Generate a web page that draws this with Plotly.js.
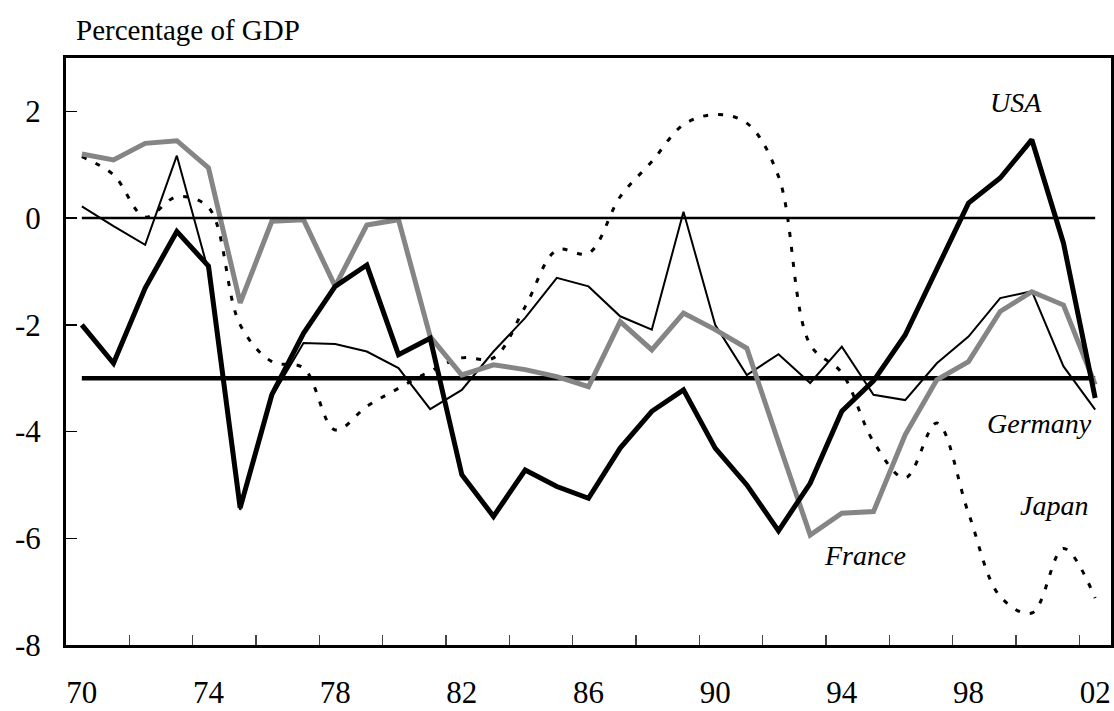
<!DOCTYPE html>
<html>
<head>
<meta charset="utf-8">
<script src="https://cdn.plot.ly/plotly-3.0.1.min.js"></script>
<style>
  html, body { margin: 0; padding: 0; background: #ffffff; }
  #chart { width: 1114px; height: 711px; }
</style>
</head>
<body>
<div id="chart"></div>
<script>
const years = [1970,1971,1972,1973,1974,1975,1976,1977,1978,1979,
               1980,1981,1982,1983,1984,1985,1986,1987,1988,1989,
               1990,1991,1992,1993,1994,1995,1996,1997,1998,1999,
               2000,2001,2002];

const usa = [-2.0,-2.72,-1.31,-0.25,-0.9,-5.43,-3.31,-2.16,-1.28,-0.88,
             -2.56,-2.25,-4.81,-5.59,-4.72,-5.03,-5.25,-4.31,-3.62,-3.22,
             -4.31,-5.0,-5.86,-4.97,-3.62,-3.05,-2.19,-0.95,0.28,0.75,
             1.47,-0.47,-3.37];

const germany = [0.22,-0.15,-0.5,1.17,-1.0,-5.47,-3.35,-2.34,-2.36,-2.5,
                 -2.81,-3.58,-3.22,-2.5,-1.87,-1.12,-1.28,-1.84,-2.09,0.12,
                 -2.0,-2.94,-2.55,-3.09,-2.41,-3.31,-3.41,-2.72,-2.22,-1.5,
                 -1.37,-2.78,-3.59];

const japan = [1.15,0.81,0.02,0.4,0.2,-2.0,-2.69,-2.81,-3.97,-3.53,
               -3.19,-2.87,-2.62,-2.62,-1.66,-0.6,-0.66,0.4,1.06,1.75,
               1.94,1.78,0.78,-2.37,-2.9,-4.19,-4.87,-3.84,-5.53,-7.09,
               -7.4,-6.19,-7.12];

const france = [1.2,1.09,1.4,1.45,0.94,-1.59,-0.06,-0.03,-1.28,-0.13,
                -0.03,-2.22,-2.94,-2.75,-2.84,-2.97,-3.16,-1.94,-2.47,-1.78,
                -2.09,-2.44,-4.2,-5.94,-5.53,-5.5,-4.06,-3.03,-2.69,-1.75,
                -1.38,-1.63,-3.12];

const refYears = [1970, 2002];
const zeroRef = [0, 0];
const limitRef = [-3, -3];

const labelYears = [1970,1974,1978,1982,1986,1990,1994,1998,2002];
const labelText = ['70','74','78','82','86','90','94','98','02'];
const tickYears = [1971.5,1973.5,1975.5,1977.5,1979.5,1981.5,1983.5,1985.5,1987.5,
                   1989.5,1991.5,1993.5,1995.5,1997.5,1999.5,2001.5];
const yTicks = [-8,-6,-4,-2,0,2];

const seriesNames = ['USA','Germany','Japan','France'];

const SERIF = 'Times New Roman, Liberation Serif, serif';

const traces = [
  {x: refYears, y: zeroRef, xaxis: 'x2', yaxis: 'y', mode: 'lines',
   line: {color: '#000000', width: 2.5}, hoverinfo: 'skip', showlegend: false},
  {x: refYears, y: limitRef, mode: 'lines',
   line: {color: '#000000', width: 4.5}, hoverinfo: 'skip', showlegend: false},
  {x: years, y: japan, name: seriesNames[2], mode: 'lines',
   line: {color: '#000000', width: 3, dash: '5px,10px', shape: 'spline', smoothing: 1}},
  {x: years, y: germany, name: seriesNames[1], mode: 'lines',
   line: {color: '#000000', width: 2}},
  {x: years, y: france, name: seriesNames[3], mode: 'lines',
   line: {color: '#858585', width: 5}},
  {x: years, y: usa, name: seriesNames[0], mode: 'lines',
   line: {color: '#000000', width: 5}}
];

const labelFont = {family: SERIF, size: 28, color: '#000000', style: 'italic'};

const layout = {
  width: 1114,
  height: 711,
  margin: {l: 66, r: 3, t: 58, b: 66, pad: 0},
  paper_bgcolor: '#ffffff',
  plot_bgcolor: '#ffffff',
  showlegend: false,
  font: {family: SERIF, size: 31, color: '#000000'},
  title: {
    text: 'Percentage of GDP',
    font: {family: SERIF, size: 29, color: '#000000'},
    xref: 'container', yref: 'container',
    x: 76 / 1114, xanchor: 'left',
    y: 1 - 30 / 711, yanchor: 'middle'
  },
  xaxis: {
    range: [1969.5, 2002.5],
    tickmode: 'array',
    tickvals: labelYears,
    ticktext: labelText,
    ticks: '',
    showgrid: false,
    zeroline: false,
    showline: true,
    mirror: true,
    linecolor: '#000000',
    linewidth: 3,
    ticklabelstandoff: 18,
    tickfont: {family: SERIF, size: 31, color: '#000000'}
  },
  xaxis2: {
    overlaying: 'x',
    anchor: 'y',
    side: 'bottom',
    range: [1969.5, 2002.5],
    tickmode: 'array',
    tickvals: tickYears,
    ticks: 'inside',
    ticklen: 10,
    tickwidth: 1.5,
    tickcolor: '#444444',
    showticklabels: false,
    showgrid: false,
    zeroline: false,
    showline: false
  },
  yaxis: {
    range: [-8, 3],
    tickmode: 'array',
    tickvals: yTicks,
    ticktext: yTicks.map(String),
    ticks: 'inside',
    ticklen: 11,
    tickwidth: 1.5,
    tickcolor: '#000000',
    showgrid: false,
    zeroline: false,
    showline: true,
    mirror: true,
    linecolor: '#000000',
    linewidth: 3,
    ticklabelstandoff: 16,
    tickfont: {family: SERIF, size: 31, color: '#000000'}
  },
  annotations: [
    {text: seriesNames[0], x: 1999.49, y: 2.16, xref: 'x', yref: 'y', showarrow: false, font: labelFont},
    {text: seriesNames[1], x: 2000.25, y: -3.84, xref: 'x', yref: 'y', showarrow: false, font: labelFont},
    {text: seriesNames[2], x: 2000.69, y: -5.39, xref: 'x', yref: 'y', showarrow: false, font: labelFont},
    {text: seriesNames[3], x: 1994.72, y: -6.33, xref: 'x', yref: 'y', showarrow: false, font: labelFont}
  ]
};

Plotly.newPlot('chart', traces, layout, {staticPlot: true, displayModeBar: false});
</script>
</body>
</html>
